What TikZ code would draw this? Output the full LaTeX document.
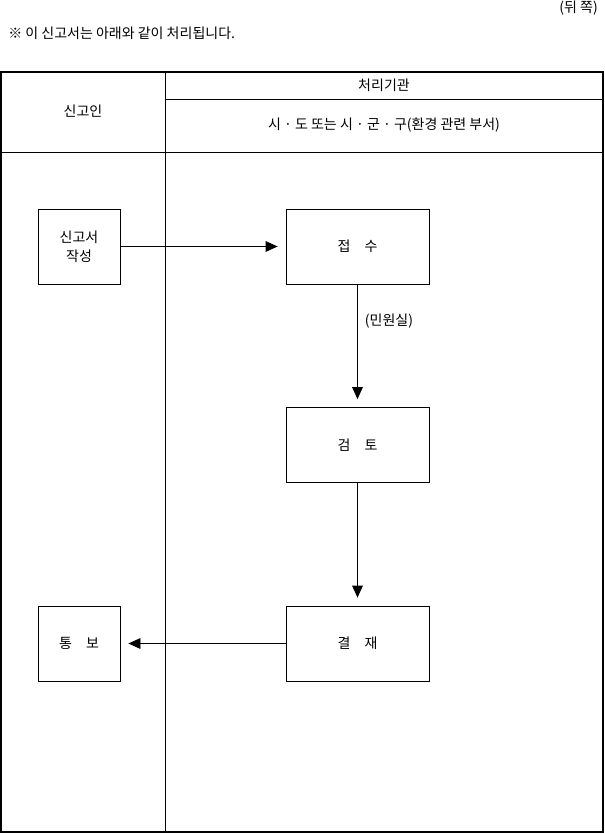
\documentclass[tikz,border=0pt]{standalone}
\usepackage{fontspec}
\setmainfont{Noto Sans CJK KR}
\usetikzlibrary{arrows.meta}
\begin{document}
\begin{tikzpicture}[x=0.75pt,y=-0.75pt,
  box/.style={draw,line width=0.6pt,minimum width=82*0.75pt,minimum height=75*0.75pt,inner sep=0pt,font=\fontsize{10.5pt}{14pt}\selectfont,align=center},
  wbox/.style={box,minimum width=143*0.75pt},
  txt/.style={font=\fontsize{10.5pt}{14pt}\selectfont,inner sep=0pt},
  arr/.style={-{Triangle[length=9pt,width=8pt]},line width=0.6pt,shorten >=6pt}]
\useasboundingbox (0,0) rectangle (604,834);
\node[txt,anchor=east] (back) at (598,8) {(뒤 쪽)};
\node[txt,anchor=west] (note) at (8,33) {※ 이 신고서는 아래와 같이 처리됩니다.};
\draw[line width=0.8pt] (1,72) rectangle (603,832);
\draw[line width=0.6pt] (165,72) -- (165,832);
\draw[line width=0.6pt] (1,152) -- (603,152);
\draw[line width=0.6pt] (165,99) -- (603,99);
\node[txt] (h1) at (83,111) {신고인};
\node[txt] (h2) at (384,85) {처리기관};
\node[txt] (h3) at (384,125) {시 · 도 또는 시 · 군 · 구(환경 관련 부서)};
\node[box] (a) at (79,246.5) {신고서\\작성};
\node[wbox] (b) at (357.5,246.5) {접\quad 수};
\node[wbox] (c) at (357.5,445) {검\quad 토};
\node[wbox] (d) at (357.5,643.5) {결\quad 재};
\node[box] (e) at (79,643.5) {통\quad 보};
\draw[arr] (a) -- (b);
\draw[arr] (b) -- (c);
\draw[arr] (c) -- (d);
\draw[arr] (d) -- (e);
\node[txt] (lbl) at (389,321) {(민원실)};
\end{tikzpicture}
\end{document}
